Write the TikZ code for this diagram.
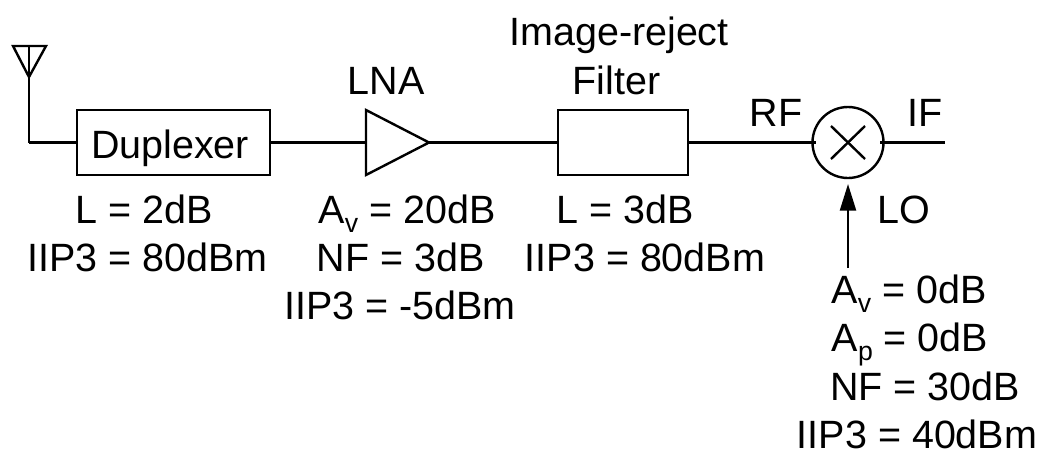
\documentclass[tikz,border=0pt]{standalone}
\usepackage{fontspec}
\setmainfont{Liberation Sans}
\usetikzlibrary{arrows.meta}
\newcommand{\lowsub}[1]{\raisebox{-7pt}{\fontsize{20pt}{20pt}\selectfont #1}}
\tikzset{
 wire/.style={line width=1.8pt,black},
 blockbox/.style={draw,line width=1.8pt,inner sep=0pt},
 lab/.style={inner sep=0pt,font=\fontsize{29.6pt}{29.6pt}\selectfont,anchor=base},
}
\begin{document}
\begin{tikzpicture}[x=0.75pt,y=-0.75pt]
\useasboundingbox (0,0) rectangle (1039,450);
\fill[white] (0,0) rectangle (1039,450);
% antenna
\coordinate (ant0) at (29,142.5);
\coordinate (antb) at (29,77);
\coordinate (antl) at (13,46);
\coordinate (antr) at (46,46);
\coordinate (antt) at (29,46);
\draw[wire,line join=miter] (antl) -- (antr) -- (antb) -- cycle;
\draw[wire] (antt) -- (antb) -- (ant0);
\node[blockbox,minimum width=193*0.75pt,minimum height=65*0.75pt] (dup) at (173.5,142.5) {};
\node[lab] (duptxt) at (170,158) {Duplexer};
\draw[wire] (ant0) -- (dup.west);
% LNA
\coordinate (la) at (366,110);
\coordinate (lb) at (366,175);
\coordinate (lc) at (429,142.5);
\coordinate (lin) at (366,142.5);
\draw[wire] (la) -- (lb) -- (lc) -- cycle;
\draw[wire] (dup.east) -- (lin);
\node[blockbox,minimum width=130*0.75pt,minimum height=65*0.75pt] (flt) at (623,142.5) {};
\draw[wire] (lc) -- (flt.west);
% mixer
\node[draw,circle,line width=1.8pt,minimum size=71*0.75pt,inner sep=0pt] (mix) at (848,142.5) {};
\coordinate (xa) at (831,126);
\coordinate (xb) at (865,159);
\coordinate (xc) at (865,126);
\coordinate (xd) at (831,159);
\draw[wire] (xa) -- (xb);
\draw[wire] (xc) -- (xd);
\coordinate (mixin) at (816,142.5);
\coordinate (mixout) at (880,142.5);
\draw[wire] (flt.east) -- (mixin);
\coordinate (ifend) at (945,142.5);
\draw[wire] (mixout) -- (ifend);
\coordinate (lostart) at (848,268);
\coordinate (lotip) at (848,184);
\draw[wire,-{Stealth[length=20pt,width=12pt,inset=0pt]}] (lostart) -- (lotip);
% labels
\node[lab] (t1) at (619,45) {Image-reject};
\node[lab] (t2) at (616.5,94.5) {Filter};
\node[lab] (t3) at (386,94.5) {LNA};
\node[lab] (t4) at (776,126) {RF};
\node[lab] (t5) at (925,126) {IF};
\node[lab] (t6) at (904,223) {LO};
\node[lab] (t7) at (144,223) {L = 2dB};
\node[lab] (t8) at (147.5,271) {IIP3 = 80dBm};
\node[lab] (t9) at (407,223) {A\lowsub{v} = 20dB};
\node[lab] (t10) at (400.5,271) {NF = 3dB};
\node[lab] (t11) at (400,319) {IIP3 = -5dBm};
\node[lab] (t12) at (625,223) {L = 3dB};
\node[lab] (t13) at (645,271) {IIP3 = 80dBm};
\node[lab] (t14) at (909,303) {A\lowsub{v} = 0dB};
\node[lab] (t15) at (910,351.5) {A\lowsub{p} = 0dB};
\node[lab] (t16) at (925,400) {NF = 30dB};
\node[lab] (t17) at (917,448) {IIP3 = 40dBm};
\end{tikzpicture}
\end{document}
